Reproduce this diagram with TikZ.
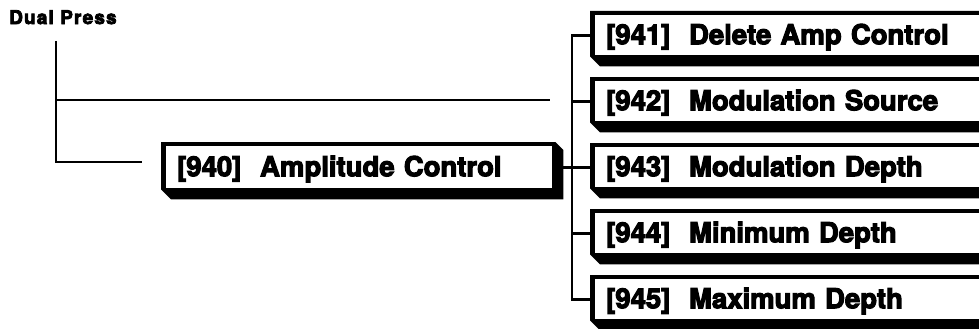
\documentclass[tikz,border=0pt]{standalone}
\usepackage{fontspec}
\newfontfamily\hv{TeX Gyre Heros}[BoldFeatures={FakeBold=4}]
\newfontfamily\hvsp{TeX Gyre Heros}[LetterSpace=6,BoldFeatures={FakeBold=4}]
\usetikzlibrary{backgrounds}
\newcommand\boxshadow[1]{\fill[black] ([shift={(-5,-4)}]#1.north west) -- ([shift={(3,-4)}]#1.north east) -- ([shift={(11,4)}]#1.north east) -- ([shift={(11,11)}]#1.south east) -- ([shift={(5,11)}]#1.south west) -- ([shift={(-5,1)}]#1.south west) -- cycle;}
\tikzset{
  menubox/.style={fill=white, inner xsep=11pt, inner ysep=0pt, align=left, anchor=north west,
    font={\hv\bfseries\fontsize{27.5}{30}\selectfont}, text height=20pt, text depth=2pt},
  rbox/.style={menubox, text width=382pt, minimum height=40pt},
  mbox/.style={menubox, text width=364pt, minimum height=42pt},
  lline/.style={line width=1.4pt},
  busline/.style={line width=2.8pt, line cap=rect},
  stub/.style={line width=2.8pt}
}
\begin{document}
\begin{tikzpicture}[x=1pt,y=-1pt]
\useasboundingbox (0,0) rectangle (979,329);
\node[font={\hvsp\bfseries\fontsize{19}{22}\selectfont}, anchor=north west, inner sep=0pt] (dp) at (9,10) {Dual Press};
\node[mbox] (b940) at (166,146) {[940]\hspace{0.68em}Amplitude Control};
\node[rbox] (b941) at (595,15) {[941]\hspace{0.68em}Delete Amp Control};
\node[rbox] (b942) at (595,81) {[942]\hspace{0.68em}Modulation Source};
\node[rbox] (b943) at (595,147) {[943]\hspace{0.68em}Modulation Depth};
\node[rbox] (b944) at (595,213) {[944]\hspace{0.68em}Minimum Depth};
\node[rbox] (b945) at (595,279) {[945]\hspace{0.68em}Maximum Depth};
\begin{pgfonlayer}{background}
\foreach \n in {940,...,945} {\boxshadow{b\n}}
\end{pgfonlayer}
\coordinate (bus) at (572,0);
\draw[busline] (b941.west -| bus) -- (b945.west -| bus);
\foreach \n in {941,...,945} {\draw[stub] (b\n.west -| bus) -- (b\n.west);}
\draw[stub] (b940.east) -- (b940.east -| bus);
\coordinate (v0) at (56,41);
\coordinate (v1) at (56,100);
\coordinate (v2) at (56,162);
\coordinate (e1) at (550,100);
\coordinate (e2) at (142,162);
\draw[lline] (v0) -- (v2) -- (e2);
\draw[lline] (v1) -- (e1);
\end{tikzpicture}
\end{document}
